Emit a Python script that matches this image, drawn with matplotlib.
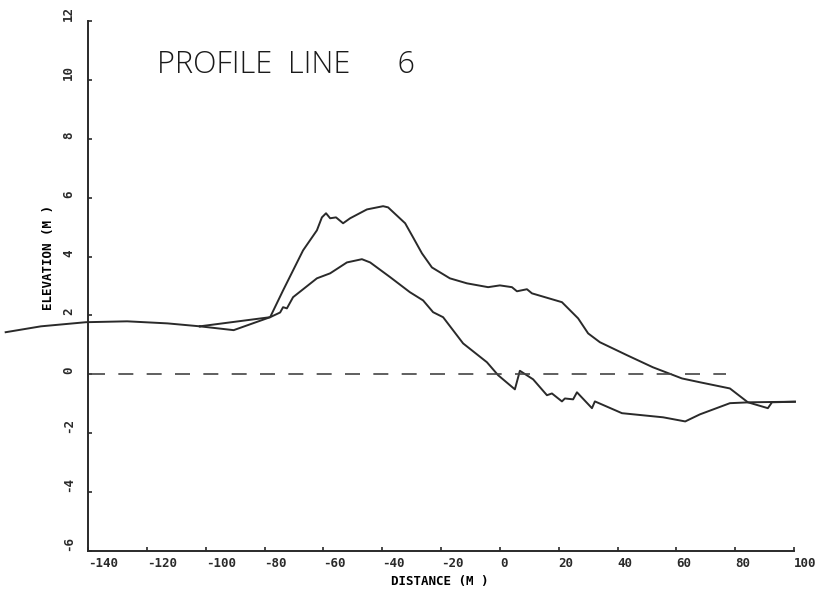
from matplotlib import pyplot as plt

plt.rcParams['axes.unicode_minus'] = False

# shared stretch of both surveys, left of where they split
common_x = [-168, -156, -140.7, -126.7, -113, -102]
common_y = [1.43, 1.63, 1.77, 1.80, 1.73, 1.63]

# survey with the tall dune crest
upper_x = [-102, -78.1, -73.7, -66.9, -62.2, -60.5, -59.1, -57.7, -55.7,
           -53.3, -50.9, -45.2, -39.7, -38.0, -32.2, -29.5, -26.5, -23.1,
           -17.0, -11.2, -4.0, 0.0, 4.1, 5.8, 9.2, 10.9, 21.1, 26.6, 30.0,
           34.0, 43.2, 52.0, 61.9, 68.0, 78.2, 84.3, 91.1, 92.5, 100.3]
upper_y = [1.63, 1.94, 2.85, 4.21, 4.89, 5.33, 5.47, 5.30, 5.33,
           5.13, 5.30, 5.60, 5.71, 5.67, 5.13, 4.65, 4.11, 3.63,
           3.26, 3.09, 2.96, 3.02, 2.96, 2.82, 2.89, 2.75, 2.45, 1.90, 1.39,
           1.09, 0.65, 0.24, -0.14, -0.27, -0.48, -0.95, -1.15, -0.95, -0.93]

# survey with the lower crest
lower_x = [-102, -90.5, -78.1, -74.7, -73.7, -72.4, -70.3, -62.2, -57.7,
           -52.0, -46.9, -44.1, -37.3, -30.6, -26.1, -22.7, -19.3, -12.5,
           -4.4, -0.6, 5.1, 6.8, 11.3, 16.0, 17.7, 21.1, 22.1, 24.9, 26.2,
           31.3, 32.3, 41.5, 55.5, 63.0, 68.0, 78.2, 85.0, 100.3]
lower_y = [1.63, 1.50, 1.94, 2.10, 2.28, 2.24, 2.62, 3.26, 3.43,
           3.80, 3.91, 3.80, 3.30, 2.79, 2.51, 2.11, 1.94, 1.05,
           0.41, -0.03, -0.51, 0.12, -0.17, -0.71, -0.65, -0.92, -0.82, -0.85,
           -0.61, -1.15, -0.92, -1.32, -1.46, -1.60, -1.36, -0.98, -0.95, -0.93]

datum_x = [-139.5, 77]
datum_y = [0, 0]

x_ticks = list(range(-140, 101, 20))
y_ticks = list(range(-6, 13, 2))

ink = '#2a2a2a'
tick_font = dict(family='DejaVu Sans Mono', weight='bold', size=9)

fig = plt.figure(figsize=(8.22, 5.91), dpi=100)
ax = fig.add_axes([0.1071, 0.0677, 0.8589, 0.8968])

ax.plot(common_x, common_y, color=ink, lw=1.4, clip_on=False)
ax.plot(upper_x, upper_y, color=ink, lw=1.4, clip_on=False)
ax.plot(lower_x, lower_y, color=ink, lw=1.4, clip_on=False)
ax.plot(datum_x, datum_y, color='#444444', lw=1.2, dashes=(9, 8))

ax.set_xlim(-140, 100)
ax.set_ylim(-6, 12)

for side in ('top', 'right'):
    ax.spines[side].set_visible(False)
for side in ('left', 'bottom'):
    ax.spines[side].set_linewidth(1.4)
    ax.spines[side].set_color(ink)

ax.set_xticks(x_ticks, [str(v) for v in x_ticks], **tick_font)
ax.set_yticks(y_ticks, [str(v) for v in y_ticks], **tick_font)
ax.tick_params(direction='in', length=3, width=1.2, colors=ink)
ax.tick_params(axis='x', pad=4)
ax.tick_params(axis='y', pad=14)
for lbl in ax.get_xticklabels():
    lbl.set_horizontalalignment('left')
for lbl in ax.get_yticklabels():
    lbl.set_rotation(90)
    lbl.set_rotation_mode('anchor')
    lbl.set_horizontalalignment('left')
    lbl.set_verticalalignment('center')

ax.set_xlabel('DISTANCE (M )', **tick_font)
ax.set_ylabel('ELEVATION (M )', **tick_font)
ax.xaxis.set_label_coords(0.4986, -0.0585)
ax.xaxis.label.set_verticalalignment('center')
ax.yaxis.set_label_coords(-0.0567, 0.553)
ax.yaxis.label.set_verticalalignment('center')

# plotter title in a thin face
ax.text(-116.5, 10.22, 'PROFILE  LINE      6', family='Open Sans',
        weight='light', size=22, color='#1a1a1a', va='baseline', ha='left')

fig.savefig('out.png', dpi=100)
